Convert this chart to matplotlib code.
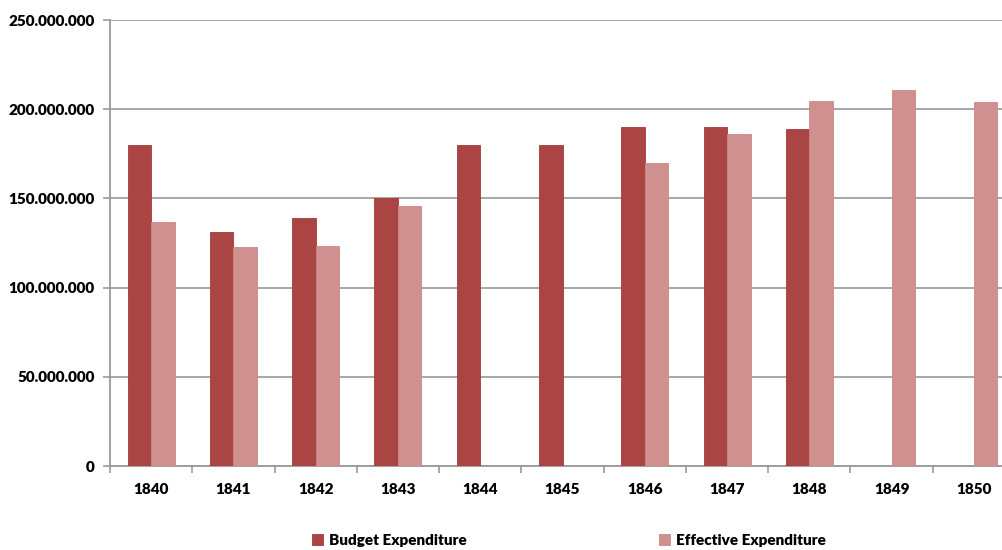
import numpy as np
import matplotlib
matplotlib.use("Agg")
import matplotlib.pyplot as plt
from matplotlib.ticker import FuncFormatter

years = ['1840', '1841', '1842', '1843', '1844', '1845', '1846', '1847', '1848', '1849', '1850']
budget = [180e6, 131e6, 139e6, 150e6, 180e6, 180e6, 190e6, 190e6, 189e6, np.nan, np.nan]
effective = [137e6, 123e6, 123.5e6, 146e6, np.nan, np.nan, 170e6, 186e6, 204.5e6, 211e6, 204e6]

plt.rcParams['font.family'] = ['Lato', 'DejaVu Sans']
plt.rcParams['font.weight'] = 'heavy'

fig = plt.figure(figsize=(10.03, 5.5), dpi=100)
ax = fig.add_axes([110/1003, 84/550, 905/1003, 446/550])

x = np.arange(len(years))
w = 0.286
ax.bar(x - w/2, budget, w, color='#AB4544', edgecolor='#A23B3B', linewidth=0.6,
       label='Budget Expenditure', zorder=3)
ax.bar(x + w/2, effective, w, color='#D19090', edgecolor='#CC8787', linewidth=0.6,
       label='Effective Expenditure', zorder=3)

ax.set_xlim(-0.5, len(years) - 0.5)
ax.set_ylim(0, 250e6)
ax.set_yticks(np.arange(0, 250e6 + 1, 50e6))
ax.yaxis.set_major_formatter(FuncFormatter(lambda v, p: f'{int(v):,}'.replace(',', '.')))
ax.set_xticks(x)
ax.set_xticklabels(years)
ax.set_xticks(np.arange(-0.5, len(years), 1), minor=True)
ax.tick_params(axis='x', which='major', length=0, pad=12, labelsize=11)
ax.tick_params(axis='x', which='minor', length=5, color='#999999', width=1.2)
ax.tick_params(axis='y', length=5, color='#999999', width=1.2, pad=6, labelsize=11)

ax.grid(axis='y', color='#A0A0A0', linewidth=1.3, zorder=0)
for s in ['top', 'right']:
    ax.spines[s].set_visible(False)
for s in ['left', 'bottom']:
    ax.spines[s].set_color('#999999')
    ax.spines[s].set_linewidth(1.3)

fig.legend(loc='center', bbox_to_anchor=(0.567, 0.017), ncol=2, frameon=False,
           handlelength=0.7, handleheight=0.7, handletextpad=0.4, columnspacing=12.6,
           fontsize=11)

fig.savefig('out.png', dpi=100)
